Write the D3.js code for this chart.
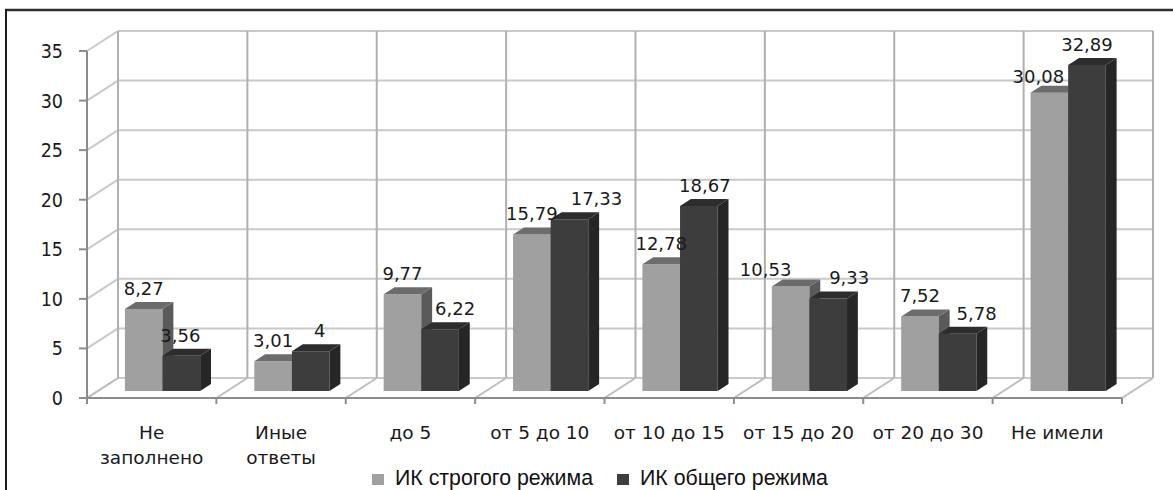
<!DOCTYPE html>
<html>
<head>
<meta charset="utf-8">
<script src="https://cdn.jsdelivr.net/npm/d3@7"></script>
<style>
  html, body { margin: 0; padding: 0; background: #fff; }
  svg { display: block; }
</style>
</head>
<body>
<svg id="chart" width="1173" height="490"></svg>
<script>
// Categories: length of prior sentence (years), plus non-answers
const categories = ["Не заполнено", "Иные ответы", "до 5", "от 5 до 10", "от 10 до 15", "от 15 до 20", "от 20 до 30", "Не имели"];
const seriesNames = ["ИК строгого режима", "ИК общего режима"];
const strictRegime = [8.27, 3.01, 9.77, 15.79, 12.78, 10.53, 7.52, 30.08];
const generalRegime = [3.56, 4, 6.22, 17.33, 18.67, 9.33, 5.78, 32.89];
const yTicks = [0, 5, 10, 15, 20, 25, 30, 35];

// Small label nudges (px) so neighbouring value labels do not collide
const labelShiftStrict = [[0, 0], [0, 0], [0, 0], [0, 0], [0, 0], [-25, 3], [0, 0], [-11, 4]];
const labelShiftGeneral = [[-1, 0], [9, 0], [15, 0], [27, 0], [6, 0], [21, 0], [19, 0], [0, 0]];

const svg = d3.select("#chart");
const W = 1173, H = 490;

// frame
svg.append("rect").attr("width", W).attr("height", H).attr("fill", "#fff");
svg.append("line").attr("x1", 5).attr("x2", W).attr("y1", 10).attr("y2", 10)
  .attr("stroke", "#2e2e2e").attr("stroke-width", 2.5);
svg.append("line").attr("x1", 6).attr("x2", 6).attr("y1", 9).attr("y2", H)
  .attr("stroke", "#1e1e1e").attr("stroke-width", 2);

// 3D projection: full depth shifts by (DX, DY)
const DX = 31, DY = -20;
const x0 = 87, x1 = 1122;
const x = d3.scaleBand().domain(categories).range([x0, x1]).paddingInner(0).paddingOuter(0);
const y = d3.scaleLinear().domain([0, 35]).range([398, 51]);
const xs = d3.scaleBand().domain(seriesNames).range([0, x.bandwidth()]).paddingInner(0).paddingOuter(0.72);
const step = x.step();

const grid = svg.append("g").attr("fill", "none");

// back wall horizontal gridlines + left wall diagonals
yTicks.forEach(v => {
  grid.append("line")
    .attr("x1", x0 + DX).attr("x2", x1 + DX)
    .attr("y1", y(v) + DY).attr("y2", y(v) + DY)
    .attr("stroke", "#c9c9c9").attr("stroke-width", 2);
  grid.append("line")
    .attr("x1", x0).attr("x2", x0 + DX)
    .attr("y1", y(v)).attr("y2", y(v) + DY)
    .attr("stroke", "#c9c9c9").attr("stroke-width", 2);
});

// back wall verticals + floor diagonals
d3.range(categories.length + 1).forEach(i => {
  const xf = x0 + i * step;
  grid.append("line")
    .attr("x1", xf + DX).attr("x2", xf + DX)
    .attr("y1", y(0) + DY).attr("y2", y(35) + DY)
    .attr("stroke", "#b0b0b0").attr("stroke-width", 2);
  grid.append("line")
    .attr("x1", xf).attr("x2", xf + DX)
    .attr("y1", y(0)).attr("y2", y(0) + DY)
    .attr("stroke", "#bdbdbd").attr("stroke-width", 2);
});

// axes (front edges)
const axisColor = "#8c8c8c";
svg.append("line").attr("x1", x0).attr("x2", x0).attr("y1", y(35)).attr("y2", y(0) + 6)
  .attr("stroke", axisColor).attr("stroke-width", 2);
svg.append("line").attr("x1", x0 - 8).attr("x2", x1).attr("y1", y(0)).attr("y2", y(0))
  .attr("stroke", axisColor).attr("stroke-width", 2);
yTicks.forEach(v => {
  svg.append("line").attr("x1", x0 - 8).attr("x2", x0).attr("y1", y(v)).attr("y2", y(v))
    .attr("stroke", axisColor).attr("stroke-width", 2);
});
d3.range(categories.length + 1).forEach(i => {
  const xf = x0 + i * step;
  svg.append("line").attr("x1", xf).attr("x2", xf).attr("y1", y(0)).attr("y2", y(0) + 6)
    .attr("stroke", axisColor).attr("stroke-width", 2);
});

// y tick labels
svg.append("g").selectAll("text").data(yTicks).join("text")
  .attr("x", 63).attr("y", d => y(d)).attr("dy", "0.36em")
  .attr("text-anchor", "end")
  .attr("font-family", "DejaVu Sans Condensed, DejaVu Sans")
  .attr("font-size", 19.5).attr("fill", "#1a1a1a")
  .text(d => d);

// category labels (wrapped on the front band centres)
const catLabels = svg.append("g")
  .attr("font-family", "DejaVu Sans").attr("font-size", 18.5).attr("fill", "#1a1a1a")
  .attr("text-anchor", "middle");
const wrap = { "Не заполнено": ["Не", "заполнено"], "Иные ответы": ["Иные", "ответы"] };
categories.forEach(c => {
  const lines = wrap[c] || [c];
  const t = catLabels.append("text").attr("x", x(c) + x.bandwidth() / 2).attr("y", 439);
  lines.forEach((ln, k) => {
    t.append("tspan").attr("x", x(c) + x.bandwidth() / 2).attr("dy", k === 0 ? 0 : 25).text(ln);
  });
});

// bars: front face at depth fF, back face at depth fB
const fF = 0.35, fB = 0.70;
const palettes = [
  { front: "#a0a0a0", top: "#6c6c6c", side: "#5a5a5a" },
  { front: "#3d3d3d", top: "#2d2d2d", side: "#262626" }
];
const seriesValues = [strictRegime, generalRegime];
const shifts = [labelShiftStrict, labelShiftGeneral];
const fmt = v => String(v).replace(".", ",");

const bars = svg.append("g");
const labels = svg.append("g")
  .attr("font-family", "DejaVu Sans").attr("font-size", 18).attr("fill", "#1a1a1a")
  .attr("text-anchor", "middle");

categories.forEach((c, ci) => {
  seriesNames.forEach((s, si) => {
    const v = seriesValues[si][ci];
    const pal = palettes[si];
    const xl = x(c) + xs(s), xr = xl + xs.bandwidth();
    const ox1 = DX * fF, oy1 = DY * fF, ox2 = DX * fB, oy2 = DY * fB;
    const yb = y(0), yt = y(v);
    const P = pts => pts.map(p => p.join(",")).join(" ");
    // front
    bars.append("polygon").attr("points", P([
      [xl + ox1, yt + oy1], [xr + ox1, yt + oy1], [xr + ox1, yb + oy1], [xl + ox1, yb + oy1]
    ])).attr("fill", pal.front);
    // side
    bars.append("polygon").attr("points", P([
      [xr + ox1, yt + oy1], [xr + ox2, yt + oy2], [xr + ox2, yb + oy2], [xr + ox1, yb + oy1]
    ])).attr("fill", pal.side);
    // top
    bars.append("polygon").attr("points", P([
      [xl + ox1, yt + oy1], [xl + ox2, yt + oy2], [xr + ox2, yt + oy2], [xr + ox1, yt + oy1]
    ])).attr("fill", pal.top);

    const sh = shifts[si][ci];
    labels.append("text")
      .attr("x", (xl + xr) / 2 + ox1 + sh[0])
      .attr("y", yt + oy2 - 7 + sh[1])
      .text(fmt(v));
  });
});

// legend
const legend = svg.append("g")
  .attr("font-family", "Liberation Sans, Arial").attr("font-size", 21.3).attr("fill", "#111");
const legendX = [372, 617];
seriesNames.forEach((s, si) => {
  legend.append("rect").attr("x", legendX[si]).attr("y", 474).attr("width", 12).attr("height", 11)
    .attr("fill", palettes[si].front);
  legend.append("text").attr("x", legendX[si] + 23).attr("y", 484.5).text(s);
});
</script>
</body>
</html>
